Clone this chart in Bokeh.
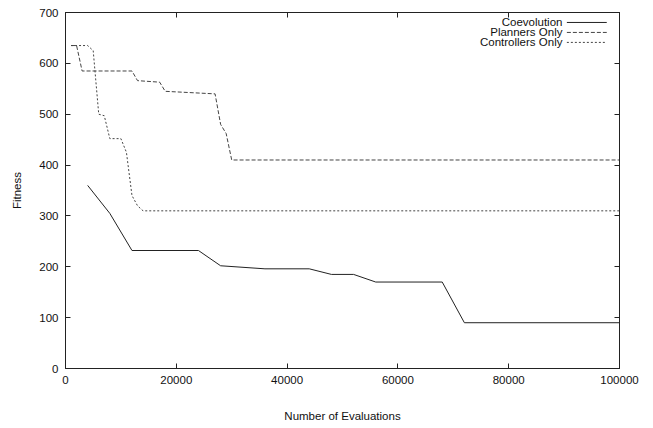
from bokeh.plotting import figure
from bokeh.models import LinearAxis, Range1d, FixedTicker, Label, Arrow, BasicTickFormatter, CustomJSTickFormatter
from bokeh.embed import file_html
from bokeh.resources import INLINE

# ---- data ----
coev_x = [4000, 8000, 12000, 24000, 28000, 36000, 44000, 48000, 52000, 56000, 68000, 72000, 100000]
coev_y = [360, 305, 232, 232, 202, 196, 196, 185, 185, 170, 170, 90, 90]

plan_x = [1000, 2000, 3000, 12000, 13000, 17000, 18000, 27000, 28000, 29000, 30000, 100000]
plan_y = [635, 635, 585, 585, 566, 563, 545, 540, 480, 462, 410, 410]

ctrl_x = [1000, 4000, 5000, 6000, 7000, 8000, 10000, 11000, 12000, 13000, 14000, 100000]
ctrl_y = [635, 635, 625, 500, 497, 452, 452, 425, 340, 320, 310, 310]

series_names = ["Coevolution", "Planners Only", "Controllers Only"]
x_ticks = [0, 20000, 40000, 60000, 80000, 100000]
y_ticks = [0, 100, 200, 300, 400, 500, 600, 700]
X_MAX = 100000
Y_MAX = 700

FONT = "Liberation Sans"
FS = "11.5px"
TXT = "#111111"
LINE = "#222222"

p = figure(frame_width=554, frame_height=356,
           x_range=Range1d(0, X_MAX), y_range=Range1d(0, Y_MAX),
           output_backend="svg", toolbar_location=None,
           min_border_left=65, min_border_right=26, min_border_top=12, min_border_bottom=10,
           x_axis_label="Number of Evaluations", y_axis_label="Fitness")
p.grid.visible = False
p.background_fill_color = "white"
p.border_fill_color = "white"
p.outline_line_color = LINE
p.outline_line_width = 1

for ax in [p.xaxis[0], p.yaxis[0]]:
    ax.major_tick_in = 5
    ax.major_tick_out = 0
    ax.minor_tick_line_color = None
    ax.axis_line_color = LINE
    ax.major_tick_line_color = LINE
    ax.major_label_text_font = FONT
    ax.major_label_text_font_size = FS
    ax.major_label_text_color = TXT
    ax.axis_label_text_font = FONT
    ax.axis_label_text_font_size = FS
    ax.axis_label_text_font_style = "normal"
    ax.axis_label_text_color = TXT
    ax.formatter = BasicTickFormatter(use_scientific=False)

p.xaxis[0].ticker = FixedTicker(ticks=x_ticks)
p.yaxis[0].ticker = FixedTicker(ticks=y_ticks)
p.xaxis[0].major_label_standoff = 7
p.xaxis[0].axis_label_standoff = 23
p.yaxis[0].major_label_standoff = 7
p.yaxis[0].axis_label_standoff = 13

# mirror axes (ticks only, no labels)
top = LinearAxis(ticker=FixedTicker(ticks=x_ticks))
right = LinearAxis(ticker=FixedTicker(ticks=y_ticks))
for ax in [top, right]:
    ax.major_tick_in = 5
    ax.major_tick_out = 0
    ax.minor_tick_line_color = None
    ax.axis_line_color = LINE
    ax.major_tick_line_color = LINE
    ax.formatter = CustomJSTickFormatter(code="return ''")
    ax.major_label_text_font_size = "1px"
    ax.major_label_standoff = 0
p.add_layout(top, "above")
p.add_layout(right, "right")

# series
p.line(coev_x, coev_y, line_color=LINE, line_width=1)
p.line(plan_x, plan_y, line_color="#444444", line_width=1, line_dash="4 2")
p.line(ctrl_x, ctrl_y, line_color="#444444", line_width=1, line_dash="2 2")

# legend (gnuplot style: text right-aligned, sample to the right)
leg_text_x = 0.897 * X_MAX
leg_s0 = 0.905 * X_MAX
leg_s1 = 0.977 * X_MAX
leg_y = [0.972 * Y_MAX, 0.944 * Y_MAX, 0.916 * Y_MAX]
dashes = ["solid", "4 2", "2 2"]
colors = [LINE, "#444444", "#444444"]
for name, yy, dsh, c in zip(series_names, leg_y, dashes, colors):
    p.add_layout(Label(x=leg_text_x, y=yy, text=name, text_align="right", text_baseline="middle",
                       text_font=FONT, text_font_size=FS, text_color=TXT))
    p.add_layout(Arrow(x_start=leg_s0, y_start=yy, x_end=leg_s1, y_end=yy, start=None, end=None,
                       line_color=c, line_width=1, line_dash=dsh))

open("out.html", "w").write(file_html(p, INLINE))
